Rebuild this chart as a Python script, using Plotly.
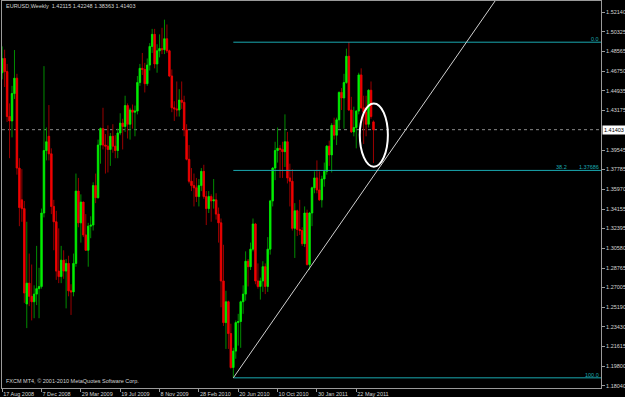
import plotly.graph_objects as go
import pandas as pd

# ---------------- data (EURUSD weekly) ----------------
dates = pd.date_range("2008-08-17", periods=152, freq="7D").strftime("%Y-%m-%d").tolist()

open_ = [
    # 2008
    1.4660, 1.4790, 1.4670, 1.4260, 1.4220, 1.4470, 1.4610, 1.3790, 1.3500, 1.3420,
    1.2550, 1.2740, 1.2620, 1.2570, 1.2640, 1.2690, 1.2710, 1.3380, 1.3950, 1.4080,
    # 2009
    1.3920, 1.3440, 1.3300, 1.2850, 1.2800, 1.2950, 1.2850, 1.2920, 1.2670, 1.2660,
    1.2920, 1.3580, 1.3290, 1.3480, 1.3180, 1.3040, 1.3260, 1.3270, 1.3630, 1.3520,
    1.4000, 1.4150, 1.4000, 1.3990, 1.3960, 1.4080, 1.3990, 1.3950, 1.4110, 1.4200,
    1.4170, 1.4360, 1.4190, 1.4320, 1.4300, 1.4310, 1.4570, 1.4700, 1.4690, 1.4560,
    1.4730, 1.4900, 1.5010, 1.4740, 1.4860, 1.4880, 1.4870, 1.4970, 1.4860, 1.4630,
    1.4340, 1.4330,
    # 2010
    1.4320, 1.4410, 1.4390, 1.4140, 1.3870, 1.3670, 1.3630, 1.3610, 1.3530, 1.3630,
    1.3760, 1.3530, 1.3420, 1.3530, 1.3490, 1.3500, 1.3370, 1.3290, 1.2760, 1.2380,
    1.2570, 1.2280, 1.1970, 1.2120, 1.2380, 1.2390, 1.2570, 1.2640, 1.2940, 1.2890,
    1.3050, 1.3280, 1.2760, 1.2710, 1.2760, 1.2890, 1.2710, 1.3050, 1.3490, 1.3790,
    1.3950, 1.3970, 1.3960, 1.3940, 1.4030, 1.3700, 1.3670, 1.3240, 1.3400, 1.3230,
    1.3220, 1.3100,
    # 2011
    1.3380, 1.2910, 1.3380, 1.3610, 1.3700, 1.3590, 1.3500, 1.3690, 1.3760, 1.3990,
    1.3910, 1.4180, 1.4090, 1.4230, 1.4480, 1.4430, 1.4570, 1.4810, 1.4320, 1.4120,
    1.4160, 1.4310, 1.4640, 1.4340, 1.4300, 1.4190, 1.4500, 1.42115,
]
high = [
    1.4900, 1.4870, 1.4740, 1.4380, 1.4540, 1.4867, 1.4650, 1.3880, 1.3780, 1.3490,
    1.3300, 1.3010, 1.2910, 1.2720, 1.3080, 1.2880, 1.3420, 1.4720, 1.4160, 1.4365,
    1.3970, 1.3500, 1.3400, 1.3240, 1.3080, 1.3040, 1.2960, 1.2990, 1.2730, 1.3010,
    1.3740, 1.3700, 1.3550, 1.3480, 1.3370, 1.3290, 1.3350, 1.3660, 1.3740, 1.4050,
    1.4160, 1.4340, 1.4100, 1.4180, 1.4110, 1.4190, 1.4090, 1.4150, 1.4290, 1.4240,
    1.4450, 1.4380, 1.4340, 1.4370, 1.4360, 1.4630, 1.4740, 1.4840, 1.4750, 1.4790,
    1.4930, 1.5060, 1.5060, 1.4920, 1.5010, 1.5070, 1.5144, 1.5100, 1.4870, 1.4690,
    1.4400, 1.4580,
    1.4510, 1.4580, 1.4450, 1.4190, 1.4000, 1.3790, 1.3740, 1.3700, 1.3690, 1.3790,
    1.3820, 1.3580, 1.3580, 1.3550, 1.3690, 1.3560, 1.3430, 1.3330, 1.3090, 1.2670,
    1.2580, 1.2370, 1.2150, 1.2400, 1.2460, 1.2580, 1.2720, 1.3030, 1.2960, 1.3110,
    1.3330, 1.3290, 1.2920, 1.2790, 1.2940, 1.2920, 1.3160, 1.3500, 1.3800, 1.4030,
    1.4160, 1.4000, 1.4030, 1.4280, 1.4120, 1.3830, 1.3780, 1.3470, 1.3410, 1.3500,
    1.3250, 1.3440,
    1.3410, 1.3390, 1.3620, 1.3760, 1.3860, 1.3760, 1.3720, 1.3840, 1.4000, 1.4040,
    1.4200, 1.4250, 1.4250, 1.4490, 1.4520, 1.4650, 1.4880, 1.4940, 1.4440, 1.4350,
    1.4320, 1.4660, 1.4700, 1.4450, 1.4450, 1.4510, 1.4580, 1.42248,
]
low = [
    1.4600, 1.4530, 1.4210, 1.3880, 1.4070, 1.4420, 1.3730, 1.3260, 1.3300, 1.2560,
    1.2330, 1.2530, 1.2400, 1.2420, 1.2540, 1.2420, 1.2690, 1.3340, 1.3860, 1.3860,
    1.3370, 1.3040, 1.2770, 1.2740, 1.2740, 1.2780, 1.2510, 1.2620, 1.2450, 1.2620,
    1.2890, 1.3250, 1.3110, 1.3160, 1.3040, 1.2890, 1.3150, 1.3220, 1.3470, 1.3510,
    1.3830, 1.3960, 1.3740, 1.3750, 1.3810, 1.3930, 1.3880, 1.3880, 1.4090, 1.3960,
    1.4120, 1.4060, 1.4050, 1.4150, 1.4080, 1.4280, 1.4540, 1.4640, 1.4480, 1.4540,
    1.4680, 1.4840, 1.4700, 1.4660, 1.4800, 1.4830, 1.4830, 1.4840, 1.4620, 1.4300,
    1.4220, 1.4260,
    1.4260, 1.4330, 1.4080, 1.3860, 1.3650, 1.3580, 1.3440, 1.3480, 1.3440, 1.3580,
    1.3510, 1.3270, 1.3380, 1.3300, 1.3420, 1.3320, 1.3110, 1.2520, 1.2350, 1.2140,
    1.2140, 1.1960, 1.1876, 1.2050, 1.2170, 1.2150, 1.2460, 1.2580, 1.2710, 1.2860,
    1.3030, 1.2730, 1.2690, 1.2590, 1.2660, 1.2640, 1.2660, 1.3000, 1.3440, 1.3680,
    1.3840, 1.3700, 1.3700, 1.3800, 1.3650, 1.3440, 1.3220, 1.2970, 1.3170, 1.3180,
    1.3080, 1.3070,
    1.2900, 1.2860, 1.3260, 1.3560, 1.3560, 1.3490, 1.3430, 1.3620, 1.3730, 1.3810,
    1.3750, 1.4050, 1.4000, 1.4150, 1.4320, 1.4150, 1.4560, 1.4310, 1.4110, 1.4080,
    1.3970, 1.4280, 1.4330, 1.4010, 1.4080, 1.4160, 1.4240, 1.38363,
]
close = [
    1.4790, 1.4670, 1.4260, 1.4220, 1.4470, 1.4610, 1.3790, 1.3430, 1.3420, 1.2650,
    1.2740, 1.2620, 1.2570, 1.2640, 1.2690, 1.2710, 1.3380, 1.3950, 1.4030, 1.3920,
    1.3440, 1.3300, 1.2850, 1.2800, 1.2950, 1.2850, 1.2920, 1.2670, 1.2660, 1.2920,
    1.3580, 1.3290, 1.3480, 1.3180, 1.3040, 1.3260, 1.3270, 1.3630, 1.3520, 1.4000,
    1.4150, 1.4000, 1.3990, 1.3960, 1.4080, 1.3990, 1.3950, 1.4110, 1.4200, 1.4170,
    1.4360, 1.4190, 1.4320, 1.4300, 1.4310, 1.4570, 1.4700, 1.4690, 1.4560, 1.4730,
    1.4900, 1.5010, 1.4740, 1.4860, 1.4880, 1.4870, 1.4970, 1.4860, 1.4630, 1.4340,
    1.4330, 1.4320,
    1.4410, 1.4390, 1.4140, 1.3870, 1.3670, 1.3630, 1.3610, 1.3530, 1.3630, 1.3760,
    1.3530, 1.3420, 1.3530, 1.3490, 1.3500, 1.3370, 1.3290, 1.2760, 1.2380, 1.2570,
    1.2280, 1.1970, 1.2120, 1.2380, 1.2390, 1.2570, 1.2640, 1.2940, 1.2890, 1.3050,
    1.3280, 1.2760, 1.2710, 1.2760, 1.2890, 1.2710, 1.3050, 1.3490, 1.3790, 1.3950,
    1.3970, 1.3960, 1.3940, 1.4030, 1.3700, 1.3670, 1.3240, 1.3400, 1.3230, 1.3220,
    1.3100, 1.3380,
    1.2910, 1.3380, 1.3610, 1.3700, 1.3590, 1.3500, 1.3690, 1.3760, 1.3990, 1.3910,
    1.4180, 1.4090, 1.4230, 1.4480, 1.4430, 1.4570, 1.4810, 1.4320, 1.4120, 1.4160,
    1.4310, 1.4640, 1.4340, 1.4300, 1.4190, 1.4500, 1.4260, 1.41403,
]

x_tick_vals = ["2008-08-17", "2008-12-07", "2009-03-29", "2009-07-19", "2009-11-08",
               "2010-02-28", "2010-06-20", "2010-10-10", "2011-01-30", "2011-05-22"]
x_tick_text = ["17 Aug 2008", "7 Dec 2008", "29 Mar 2009", "19 Jul 2009", "8 Nov 2009",
               "28 Feb 2010", "20 Jun 2010", "10 Oct 2010", "30 Jan 2011", "22 May 2011"]
y_tick_vals = [1.52140, 1.50325, 1.48565, 1.46750, 1.44935, 1.43175, 1.39545, 1.37785,
               1.35970, 1.34155, 1.32395, 1.30580, 1.28765, 1.27005, 1.25190, 1.23430,
               1.21615, 1.19800, 1.18040]
y_tick_text = [f"{v:.5f}" for v in y_tick_vals]

symbol_title = "EURUSD,Weekly  1.42115 1.42248 1.38363 1.41403"
copyright_text = "FXCM MT4, \u00a9 2001-2010 MetaQuotes Software Corp."
last_price = 1.41403

fib_high = 1.49385
fib_low = 1.18760
fib_levels = [0.0, 38.2, 100.0]
fib_start = "2010-06-06"

trend_p1 = ("2010-06-06", 1.1876)
trend_p2 = ("2011-01-09", 1.2878)
ellipse_x = ("2011-06-01", "2011-08-20")
ellipse_y = (1.3803, 1.4380)

# ---------------- styling ----------------
TXT = "#d4d4d4"
FIB = "#1aa9b0"
FRAME = "#9a9a9a"
FONT = "Liberation Sans, Arial, sans-serif"
FS = 5.5

x_start = pd.Timestamp("2008-08-16 12:00")
x_end = x_start + pd.Timedelta(days=1705.2)
y_range = [1.17833, 1.53144]

body_hi = [max(o, c) for o, c in zip(open_, close)]
body_lo = [min(o, c) for o, c in zip(open_, close)]

fig = go.Figure()
# wicks (darker)
fig.add_trace(go.Candlestick(
    x=dates, open=open_, high=high, low=low, close=close,
    increasing=dict(line=dict(color="#008c00", width=1), fillcolor="#008c00"),
    decreasing=dict(line=dict(color="#9a0000", width=1), fillcolor="#9a0000"),
    hoverinfo="skip", showlegend=False,
))
# bodies (bright)
fig.add_trace(go.Candlestick(
    x=dates, open=open_, high=body_hi, low=body_lo, close=close,
    increasing=dict(line=dict(color="#00f000", width=0.6), fillcolor="#00f000"),
    decreasing=dict(line=dict(color="#f00000", width=0.6), fillcolor="#f00000"),
    hoverinfo="skip", showlegend=False,
))

shapes = []
annotations = []

# current price dotted line
shapes.append(dict(type="line", xref="paper", x0=0, x1=1, yref="y", y0=last_price, y1=last_price,
                   line=dict(color="#8a8a8a", width=1, dash="dot"), layer="below"))

# fibonacci levels
for lv in fib_levels:
    price = fib_high - lv / 100.0 * (fib_high - fib_low)
    shapes.append(dict(type="line", xref="x", yref="y", x0=fib_start, x1=x_end,
                       y0=price, y1=price, line=dict(color=FIB, width=1)))
    annotations.append(dict(xref="paper", yref="y", x=0.998, y=price, xanchor="right",
                            yanchor="bottom", showarrow=False, borderpad=0, yshift=-1,
                            text=(f"{price:.5f}" if lv == 38.2 else f"{lv:.1f}"),
                            font=dict(family=FONT, size=FS, color=FIB)))
    if lv == 38.2:
        annotations.append(dict(xref="paper", yref="y", x=0.945, y=price, xanchor="right",
                                yanchor="bottom", showarrow=False, borderpad=0, yshift=-1,
                                text=f"{lv:.1f}", font=dict(family=FONT, size=FS, color=FIB)))

# trend line (ray through two lows)
d1 = pd.Timestamp(trend_p1[0]); d2 = pd.Timestamp(trend_p2[0])
slope = (trend_p2[1] - trend_p1[1]) / (d2 - d1).days
y_far = trend_p1[1] + slope * (x_end - d1).days
shapes.append(dict(type="line", xref="x", yref="y", x0=trend_p1[0], y0=trend_p1[1],
                   x1=x_end, y1=y_far, line=dict(color="#d0d0d0", width=1)))

# ellipse
shapes.append(dict(type="circle", xref="x", yref="y", x0=ellipse_x[0], x1=ellipse_x[1],
                   y0=ellipse_y[0], y1=ellipse_y[1], line=dict(color="white", width=2)))

# texts
annotations.append(dict(xref="paper", yref="paper", x=0.004, y=0.986, xanchor="left",
                        yanchor="middle", showarrow=False, text=symbol_title,
                        font=dict(family=FONT, size=FS, color=TXT)))
annotations.append(dict(xref="paper", yref="paper", x=0.004, y=0.017, xanchor="left",
                        yanchor="middle", showarrow=False, text=copyright_text,
                        font=dict(family=FONT, size=FS, color=TXT)))
annotations.append(dict(xref="paper", yref="y", x=1, y=last_price, xanchor="left",
                        yanchor="middle", showarrow=False, text=f"{last_price:.5f}",
                        bgcolor="white", borderpad=1, xshift=1,
                        font=dict(family=FONT, size=FS, color="black")))

fig.update_layout(
    width=625, height=397,
    margin=dict(l=2, r=24, t=1, b=9, autoexpand=False),
    paper_bgcolor="black", plot_bgcolor="black",
    showlegend=False, boxgap=0.42, boxgroupgap=0,
    shapes=shapes, annotations=annotations,
    xaxis=dict(type="date", range=[x_start, x_end], rangeslider=dict(visible=False),
               showgrid=False, zeroline=False, showline=True, mirror=True,
               linecolor=FRAME, linewidth=1, automargin=False, tickangle=0,
               tickvals=x_tick_vals, ticktext=x_tick_text, ticks="outside", ticklen=3,
               tickcolor=FRAME, ticklabelposition="outside right",
               tickfont=dict(family=FONT, size=FS, color=TXT)),
    yaxis=dict(side="right", range=y_range, showgrid=False, zeroline=False,
               showline=True, mirror=True, linecolor=FRAME, linewidth=1, automargin=False,
               tickvals=y_tick_vals, ticktext=y_tick_text, ticks="outside", ticklen=3,
               tickcolor=FRAME, tickfont=dict(family=FONT, size=FS, color=TXT)),
)

fig.write_html("out.html")
